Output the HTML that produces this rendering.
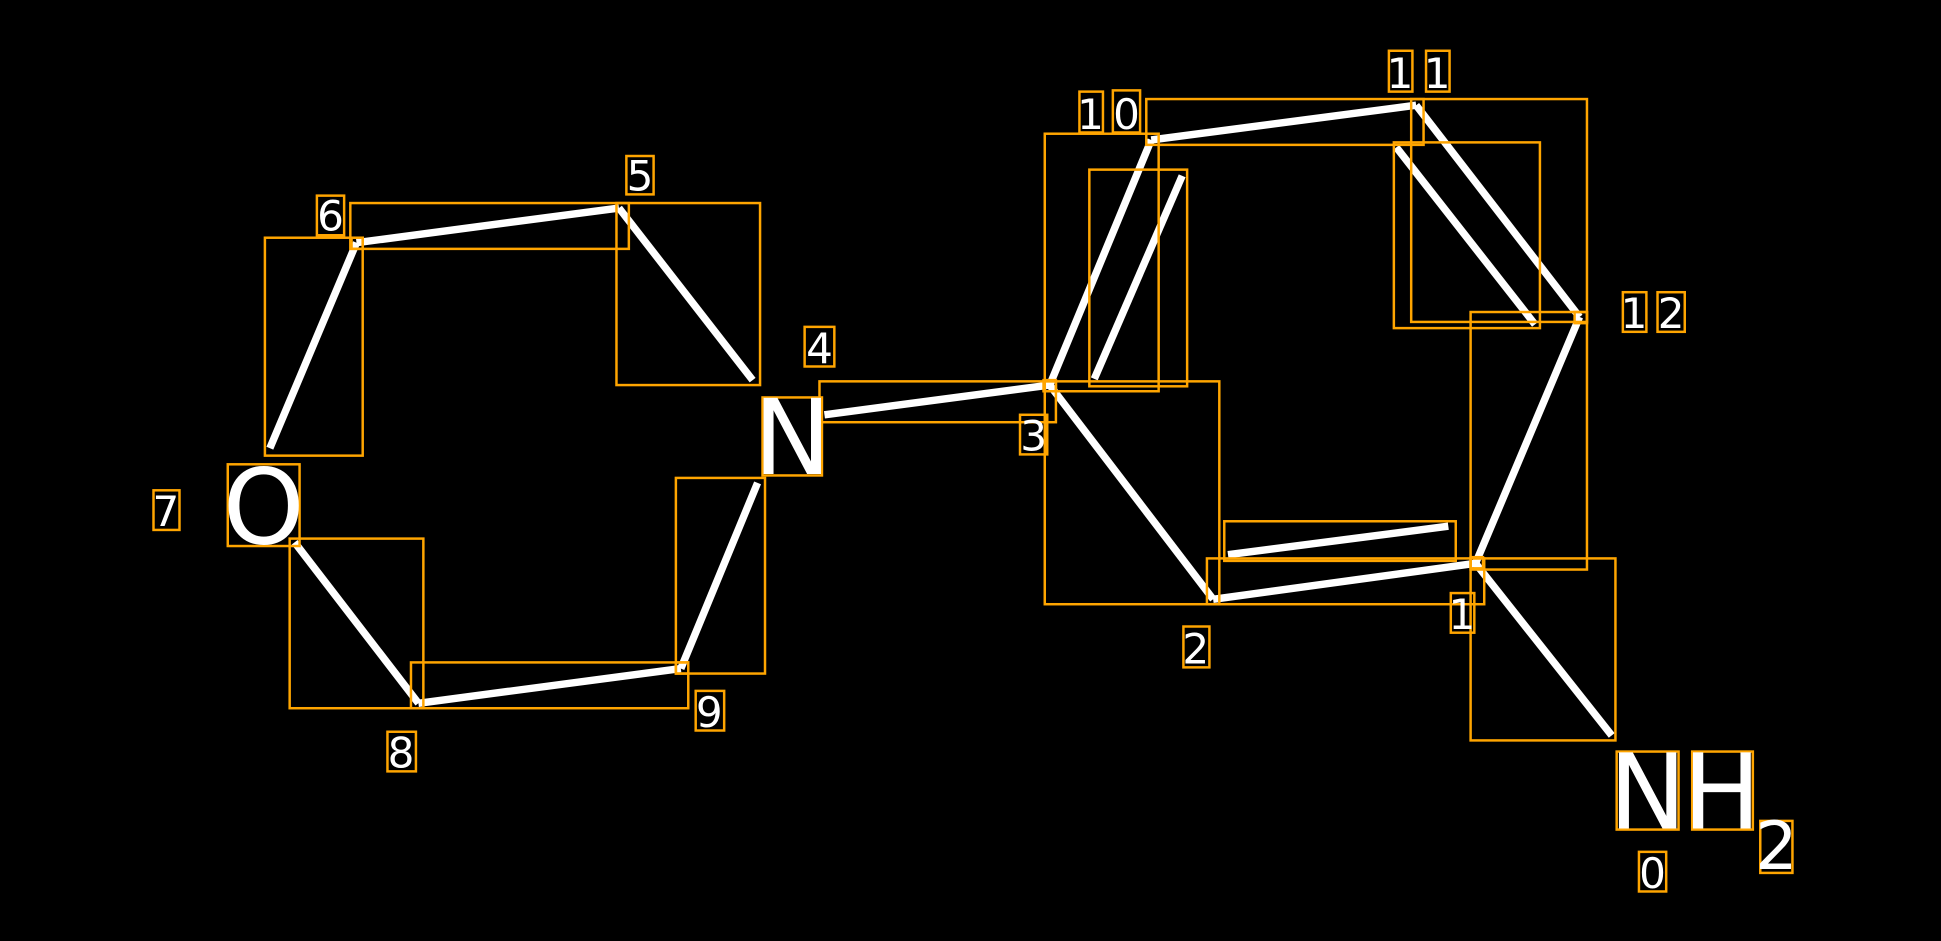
<!DOCTYPE html>
<html><head><meta charset="utf-8"><style>
html,body{margin:0;padding:0;background:#000;}
svg{display:block;}
text{font-family:"DejaVu Sans","Liberation Sans",sans-serif;fill:#fff;}
</style></head><body>
<svg width="1941" height="941" viewBox="0 0 1568 760" preserveAspectRatio="none" xmlns="http://www.w3.org/2000/svg">
<rect x="0" y="0" width="1568" height="760" fill="#000"/>
<g stroke="#fff" stroke-width="6" fill="none">
<line x1="288" y1="196" x2="500" y2="168"/>
<line x1="500" y1="168" x2="608" y2="307"/>
<line x1="288" y1="196" x2="218" y2="362"/>
<line x1="238" y1="438" x2="338" y2="568"/>
<line x1="338" y1="568" x2="550" y2="540"/>
<line x1="550" y1="540" x2="612" y2="390"/>
<line x1="666" y1="335" x2="848" y2="311"/>
<line x1="848" y1="311" x2="930" y2="113"/>
<line x1="884" y1="306" x2="955" y2="142"/>
<line x1="930" y1="113" x2="1144" y2="85"/>
<line x1="1144" y1="85" x2="1276" y2="256"/>
<line x1="1128" y1="119" x2="1240" y2="262"/>
<line x1="1276" y1="256" x2="1192" y2="455"/>
<line x1="1192" y1="455" x2="980" y2="484"/>
<line x1="992" y1="448" x2="1170" y2="425"/>
<line x1="980" y1="484" x2="848" y2="311"/>
<line x1="1192" y1="455" x2="1302" y2="594"/>
</g>
<g stroke="#FFA500" stroke-width="2" fill="none">
<rect x="283" y="164" width="225" height="37"/>
<rect x="498" y="164" width="116" height="147"/>
<rect x="214" y="192" width="79" height="176"/>
<rect x="234" y="435" width="108" height="137"/>
<rect x="332" y="535" width="224" height="37"/>
<rect x="546" y="386" width="72" height="158"/>
<rect x="662" y="308" width="191" height="33"/>
<rect x="844" y="108" width="92" height="208"/>
<rect x="880" y="137" width="79" height="175"/>
<rect x="926" y="80" width="224" height="37"/>
<rect x="1140" y="80" width="142" height="180"/>
<rect x="1126" y="115" width="118" height="150"/>
<rect x="1188" y="252" width="94" height="208"/>
<rect x="975" y="451" width="224" height="37"/>
<rect x="989" y="421" width="187" height="32"/>
<rect x="844" y="308" width="141" height="180"/>
<rect x="1188" y="451" width="117" height="147"/>
<rect x="284" y="192" width="9" height="9"/>
<rect x="546" y="535" width="10" height="9"/>
<rect x="843" y="307" width="10" height="9"/>
<rect x="1188" y="450" width="10" height="9"/>
<rect x="1272" y="252" width="10" height="9"/>
<rect x="616" y="321" width="48" height="63"/>
<rect x="184" y="375" width="58" height="66"/>
<rect x="1306" y="607" width="50" height="63"/>
<rect x="1367" y="607" width="49" height="63"/>
<rect x="1422" y="663" width="26" height="42"/>
<rect x="256" y="158" width="22" height="32"/>
<rect x="506" y="126" width="22" height="31"/>
<rect x="650" y="264" width="24" height="32"/>
<rect x="124" y="396" width="21" height="32"/>
<rect x="313" y="591" width="23" height="32"/>
<rect x="562" y="558" width="23" height="32"/>
<rect x="824" y="335" width="22" height="32"/>
<rect x="872" y="74" width="19" height="33"/>
<rect x="899" y="73" width="22" height="34"/>
<rect x="1122" y="41" width="19" height="33"/>
<rect x="1152" y="41" width="19" height="33"/>
<rect x="1311" y="236" width="19" height="32"/>
<rect x="1339" y="236" width="22" height="32"/>
<rect x="956" y="506" width="21" height="33"/>
<rect x="1172" y="479" width="19" height="32"/>
<rect x="1324" y="688" width="22" height="32"/>
</g>
<g font-size="34">
<text x="267" y="186" text-anchor="middle">6</text>
<text x="517" y="154" text-anchor="middle">5</text>
<text x="662" y="293" text-anchor="middle">4</text>
<text x="134" y="425" text-anchor="middle">7</text>
<text x="324" y="620" text-anchor="middle">8</text>
<text x="573" y="587" text-anchor="middle">9</text>
<text x="835" y="364" text-anchor="middle">3</text>
<text x="881" y="104" text-anchor="middle">1</text>
<text x="910" y="104" text-anchor="middle">0</text>
<text x="1131" y="71" text-anchor="middle">1</text>
<text x="1161" y="71" text-anchor="middle">1</text>
<text x="1320" y="265" text-anchor="middle">1</text>
<text x="1350" y="265" text-anchor="middle">2</text>
<text x="966" y="536" text-anchor="middle">2</text>
<text x="1181" y="508" text-anchor="middle">1</text>
<text x="1335" y="717" text-anchor="middle">0</text>
</g>
<g font-size="84">
<text x="640" y="383" text-anchor="middle">N</text>
<text x="213" y="439" text-anchor="middle">O</text>
<text x="1331" y="669" text-anchor="middle">N</text>
<text x="1391" y="669" text-anchor="middle">H</text>
</g>
<text x="1435" y="702" font-size="54" text-anchor="middle">2</text>
</svg>
</body></html>
